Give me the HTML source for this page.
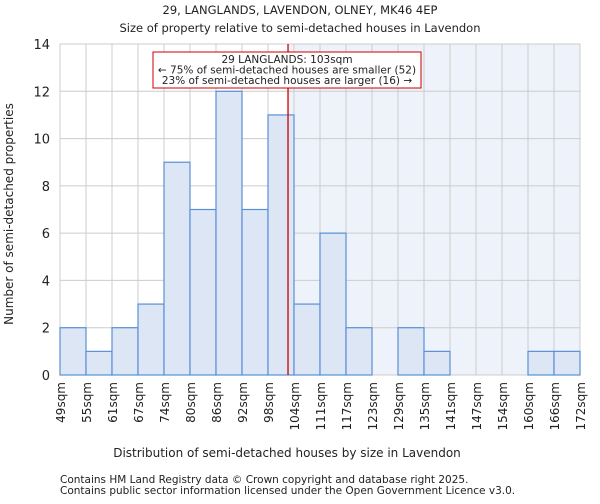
<!DOCTYPE html>
<html><head><meta charset="utf-8"><style>
body{margin:0;background:#fff;font-family:"DejaVu Sans","Liberation Sans",sans-serif}
svg text{font-family:"DejaVu Sans","Liberation Sans",sans-serif;fill:#222}
</style></head><body>
<svg id="c" width="600" height="500">
<text x="300" y="14" text-anchor="middle" font-size="11.5">29, LANGLANDS, LAVENDON, OLNEY, MK46 4EP</text>
<text x="300" y="32" text-anchor="middle" font-size="11.5">Size of property relative to semi-detached houses in Lavendon</text>
<g id="grid"></g><g id="bars"></g><g id="axes"></g>
<text x="287" y="457" text-anchor="middle" font-size="12">Distribution of semi-detached houses by size in Lavendon</text>
<text transform="translate(13,214) rotate(-90)" text-anchor="middle" font-size="12">Number of semi-detached properties</text>
<text x="60" y="483" font-size="10.5" fill="#444">Contains HM Land Registry data © Crown copyright and database right 2025.</text>
<text x="60" y="494" font-size="10.5" fill="#444">Contains public sector information licensed under the Open Government Licence v3.0.</text>
</svg>
<script>
const categories=["49sqm","55sqm","61sqm","67sqm","74sqm","80sqm","86sqm","92sqm","98sqm","104sqm","111sqm","117sqm","123sqm","129sqm","135sqm","141sqm","147sqm","154sqm","160sqm","166sqm","172sqm"];
const counts=[2,1,2,3,9,7,12,7,11,3,6,2,0,2,1,0,0,0,1,1];
const yTicks=[0,2,4,6,8,10,12,14];
const markerBin=8.77;
const NS="http://www.w3.org/2000/svg";
const X0=60,X1=580,Y0=375,Y1=44,YMAX=14;
const bw=(X1-X0)/counts.length;
const xs=i=>X0+i*bw, ys=v=>Y0-(v/YMAX)*(Y0-Y1);
function mk(t,a,p){const e=document.createElementNS(NS,t);for(const k in a)e.setAttribute(k,a[k]);p.appendChild(e);return e;}
const grid=document.getElementById('grid'),bars=document.getElementById('bars'),axes=document.getElementById('axes');
const mx=xs(markerBin);
let sh=mk('rect',{x:mx,y:Y1,width:X1-mx,height:Y0-Y1,fill:'#eef2fa'},grid);


for(let i=0;i<=counts.length;i++){let l=mk('line',{x1:xs(i),x2:xs(i),y1:Y1,y2:Y0,stroke:'#ccc'},grid);

}
yTicks.forEach(v=>{let l=mk('line',{x1:X0,x2:X1,y1:ys(v),y2:ys(v),stroke:'#ccc'},grid);


let t=mk('text',{x:X0-10,y:ys(v)+5,'text-anchor':'end','font-size':13},axes);t.textContent=v;

});
counts.forEach((v,i)=>{if(!v)return;let r=mk('rect',{x:xs(i),y:ys(v),width:bw,height:Y0-ys(v),fill:'#dce6f4',stroke:'#5a8fd6','stroke-width':1.2},bars);

});
categories.forEach((c,i)=>{let t=mk('text',{transform:`translate(${xs(i)+5},382) rotate(-90)`,'text-anchor':'end','font-size':12},axes);t.textContent=c;

});
let rl=mk('line',{x1:mx,x2:mx,y1:Y1,y2:Y0,stroke:'#cc0000','stroke-width':1.3},axes);


let bx=mk('rect',{x:153,y:52,width:268,height:36,fill:'#fff',stroke:'#cc0000'},axes);


["29 LANGLANDS: 103sqm","← 75% of semi-detached houses are smaller (52)","23% of semi-detached houses are larger (16) →"].forEach((s,k)=>{
let t=mk('text',{x:287,y:63+k*10.5,'text-anchor':'middle','font-size':10.5},axes);t.textContent=s;

});
</script>
</body></html>
